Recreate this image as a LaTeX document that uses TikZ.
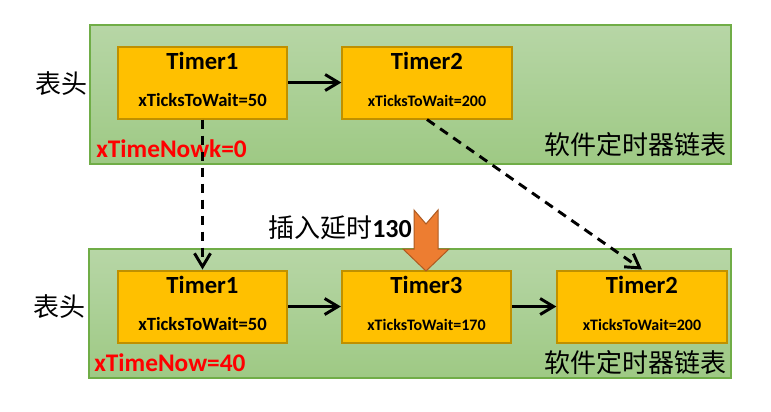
\documentclass[tikz,border=0pt]{standalone}
\usepackage{fontspec}
\setmainfont{Carlito}
\newfontfamily\cjk{Noto Sans CJK SC}
\usetikzlibrary{arrows.meta}
\definecolor{panelline}{RGB}{112,173,71}
\definecolor{paneltop}{RGB}{183,214,166}
\definecolor{panelbot}{RGB}{158,201,132}
\definecolor{timerfill}{RGB}{255,192,0}
\definecolor{timerline}{RGB}{191,144,0}
\definecolor{insertfill}{RGB}{237,125,49}
\definecolor{insertline}{RGB}{174,90,33}

\begin{document}
\begin{tikzpicture}[x=0.75pt, y=-0.75pt]
        \tikzstyle{panel} = [draw=panelline, line width=0.9pt, top color=paneltop, bottom color=panelbot]
        \tikzstyle{timer} = [draw=timerline, fill=timerfill, line width=1.5pt, minimum width=127pt, minimum height=54pt, inner sep=0pt]
        \tikzstyle{title} = [anchor=base, inner sep=0pt, font=\fontsize{18.5}{18.5}\selectfont\bfseries]
        \tikzstyle{ticks} = [anchor=base, inner sep=0pt, font=\fontsize{12}{12}\selectfont\bfseries]
        \tikzstyle{bigticks} = [anchor=base, inner sep=0pt, font=\fontsize{14}{14}\selectfont\bfseries]
        \tikzstyle{cn} = [inner sep=0pt, font=\cjk\fontsize{19.5}{19.5}\selectfont]
        \tikzstyle{now} = [anchor=base west, inner sep=0pt, text=red, font=\fontsize{19}{19}\selectfont\bfseries]
        \useasboundingbox (0,0) rectangle (771,411);
        % the two lists
        \draw[panel] (90,25) rectangle (731,164);
        \draw[panel] (89,249) rectangle (731,378);
        \node[timer] (T1a) at (202.5,82.5) {};
        \node[timer] (T2a) at (427,82.5) {};
        \node[timer] (T1b) at (202.5,306.5) {};
        \node[timer] (T3b) at (426.5,306.5) {};
        \node[timer] (T2b) at (642,306.5) {};
        \node[title] (T1aName) at ([yshift=10pt]T1a.center) {Timer1};
        \node[bigticks] (T1aWait) at ([yshift=-18pt]T1a.center) {xTicksToWait=50};
        \node[title] (T2aName) at ([yshift=10pt]T2a.center) {Timer2};
        \node[ticks] (T2aWait) at ([yshift=-18pt]T2a.center) {xTicksToWait=200};
        \node[title] (T1bName) at ([yshift=10pt]T1b.center) {Timer1};
        \node[bigticks] (T1bWait) at ([yshift=-18pt]T1b.center) {xTicksToWait=50};
        \node[title] (T3bName) at ([yshift=10pt]T3b.center) {Timer3};
        \node[ticks] (T3bWait) at ([yshift=-18pt]T3b.center) {xTicksToWait=170};
        \node[title] (T2bName) at ([yshift=10pt]T2b.center) {Timer2};
        \node[ticks] (T2bWait) at ([yshift=-18pt]T2b.center) {xTicksToWait=200};
        % labels
        \node[cn] (headA) at (62,84) {表头};
        \node[cn] (headB) at (59,307) {表头};
        \node[cn, anchor=east] (chainA) at (727,145) {软件定时器链表};
        \node[cn, anchor=east] (chainB) at (727,363) {软件定时器链表};
        \node[now] (nowA) at (96,157) {xTimeNowk=0};
        \node[now] (nowB) at (94,371) {xTimeNow=40};
        \node[cn, anchor=west] (insert) at (268,228) {插入延时{\rmfamily\bfseries 130}};
        % insert arrow
        \draw[fill=insertfill, draw=insertline, line width=0.75pt] (414,210) -- (426,224) -- (438,210) -- (438,249) -- (449,249) -- (426,271) -- (403,249) -- (414,249) -- cycle;
        % links
        \draw[->, >={Straight Barb[length=10pt, width=12pt]}, line width=2.2pt] (T1a) -- (T2a);
        \draw[->, >={Straight Barb[length=10pt, width=12pt]}, line width=2.2pt] (T1b) -- (T3b);
        \draw[->, >={Straight Barb[length=10pt, width=12pt]}, line width=2.2pt] (T3b) -- (T2b);
        \draw[->, >={Straight Barb[length=10pt, width=12pt]}, line width=2.2pt, dash pattern=on 7pt off 5pt] (T1a.south) -- (T1b.north);
        \draw[->, >={Straight Barb[length=10pt, width=12pt]}, line width=2.2pt, dash pattern=on 7pt off 5pt] (T2a.south) -- (T2b.north);
      \end{tikzpicture}
\end{document}
